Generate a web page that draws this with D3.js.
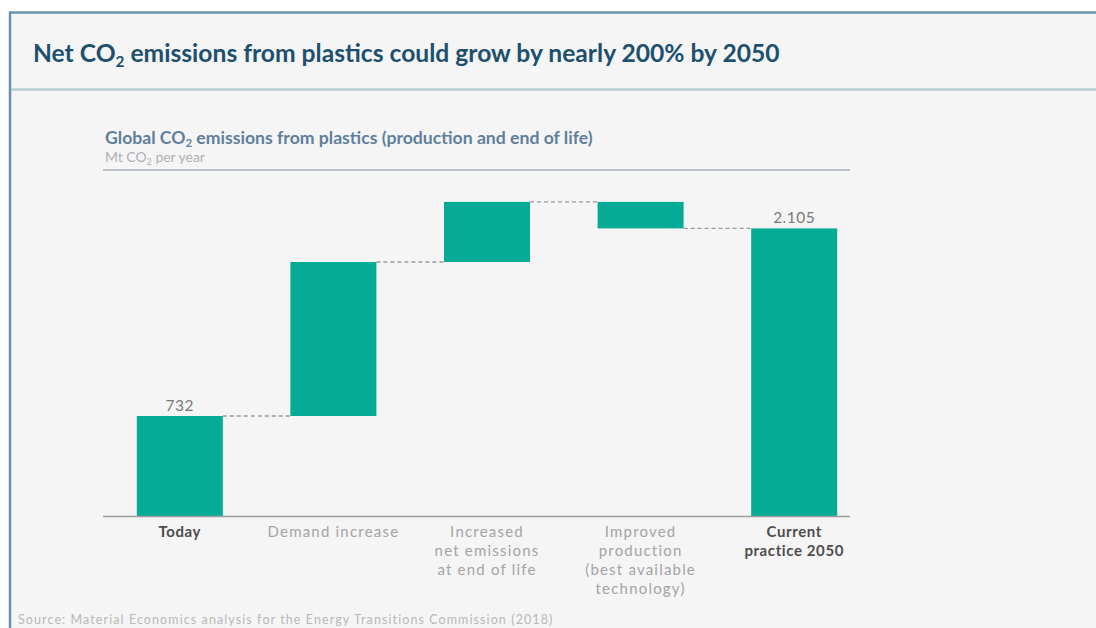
<!DOCTYPE html>
<html>
<head>
<meta charset="utf-8">
<script src="https://cdn.jsdelivr.net/npm/d3@7"></script>
<style>
  html, body { margin: 0; padding: 0; background: #ffffff; }
  svg { display: block; }
  text { font-family: "Lato", "Open Sans", sans-serif; }
</style>
</head>
<body>
<svg id="chart" width="1096" height="628"></svg>
<script>
// Waterfall steps (Mt CO2 per year)
const categories = ["Today", "Demand increase", "Increased net emissions at end of life", "Improved production (best available technology)", "Current practice 2050"];
const categoryLines = [
  ["Today"],
  ["Demand increase"],
  ["Increased", "net emissions", "at end of life"],
  ["Improved", "production", "(best available", "technology)"],
  ["Current", "practice 2050"]
];
const stepValues = [732, 1127, 440, -194, 2105];
const stepKinds = ["total", "delta", "delta", "delta", "total"];
const valueLabels = ["732", "", "", "", "2.105"];

const svg = d3.select("#chart");
const W = 1096, H = 628;

// Panel frame
svg.append("rect").attr("x", 10).attr("y", 12).attr("width", W - 10).attr("height", H - 12).attr("fill", "#f5f5f6");
svg.append("line").attr("x1", 9).attr("x2", W).attr("y1", 12.5).attr("y2", 12.5).attr("stroke", "#6a90aa").attr("stroke-width", 2.5);
svg.append("line").attr("x1", 10).attr("x2", 10).attr("y1", 12).attr("y2", H).attr("stroke", "#6a90aa").attr("stroke-width", 2.5);
svg.append("line").attr("x1", 11).attr("x2", W).attr("y1", 89.5).attr("y2", 89.5).attr("stroke", "#b9cdcf").attr("stroke-width", 2.5);

// Fit helper: scales font-size so the text spans a given width
function fitWidth(sel, target) {
  const w = sel.node().getComputedTextLength();
  const fs = parseFloat(sel.attr("font-size"));
  sel.attr("font-size", (fs * target / w).toFixed(2));
}
// Spacing helper: widens letter-spacing so the text spans a given width
function spreadTo(sel, target) {
  const w = sel.node().getComputedTextLength();
  const n = sel.text().length;
  sel.attr("letter-spacing", ((target - w) / n).toFixed(2));
}

// Title
const title = svg.append("text").attr("x", 33).attr("y", 62).attr("font-size", 20)
  .attr("font-weight", 700).attr("fill", "#1d4f6e");
title.append("tspan").text("Net CO");
title.append("tspan").text("2").attr("font-size", "0.62em").attr("dy", 5);
title.append("tspan").text(" emissions from plastics could grow by nearly 200% by 2050").attr("dy", -5);
fitWidth(title, 747);

// Chart heading
const sub = svg.append("text").attr("x", 105).attr("y", 144).attr("font-size", 13)
  .attr("font-weight", 700).attr("fill", "#5f7f9c");
sub.append("tspan").text("Global CO");
sub.append("tspan").text("2").attr("font-size", "0.65em").attr("dy", 3);
sub.append("tspan").text(" emissions from plastics (production and end of life)").attr("dy", -3);
fitWidth(sub, 488);

const unit = svg.append("text").attr("x", 105).attr("y", 162).attr("font-size", 13)
  .attr("fill", "#b0b0b4");
unit.append("tspan").text("Mt CO");
unit.append("tspan").text("2").attr("font-size", "0.65em").attr("dy", 3);
unit.append("tspan").text(" per year").attr("dy", -3);
fitWidth(unit, 100);

svg.append("line").attr("x1", 103).attr("x2", 850).attr("y1", 170).attr("y2", 170)
  .attr("stroke", "#a9b1bd").attr("stroke-width", 1.5);

// Scales
const x = d3.scaleBand().domain(categories).range([103, 871]).paddingInner(0.44).paddingOuter(0.22);
const y = d3.scaleLinear().domain([0, 2105]).range([516, 228.4]);

// Build waterfall segments
let running = 0;
const segs = categories.map((c, i) => {
  let lo, hi, end;
  if (stepKinds[i] === "total") {
    lo = 0; hi = stepValues[i]; end = stepValues[i];
  } else {
    const start = running;
    end = running + stepValues[i];
    lo = Math.min(start, end); hi = Math.max(start, end);
  }
  running = end;
  return { c, i, lo, hi, end };
});

// Connectors
const g = svg.append("g");
segs.slice(0, -1).forEach((s, i) => {
  const next = categories[i + 1];
  g.append("line")
    .attr("x1", x(s.c) + x.bandwidth()).attr("x2", x(next))
    .attr("y1", y(s.end)).attr("y2", y(s.end))
    .attr("stroke", "#9a9a9a").attr("stroke-width", 1.3).attr("stroke-dasharray", "4,3");
});

// Bars
g.selectAll("rect.bar").data(segs).join("rect").attr("class", "bar")
  .attr("x", d => x(d.c)).attr("width", x.bandwidth())
  .attr("y", d => y(d.hi)).attr("height", d => y(d.lo) - y(d.hi))
  .attr("fill", "#05ab95");

// Value labels
g.selectAll("text.val").data(segs.filter(d => valueLabels[d.i])).join("text").attr("class", "val")
  .attr("x", d => x(d.c) + x.bandwidth() / 2).attr("y", d => y(d.hi) - 5)
  .attr("text-anchor", "middle").attr("font-size", 15.5).attr("letter-spacing", 0.5).attr("fill", "#7a7a7a")
  .text(d => valueLabels[d.i]);

// Baseline
svg.append("line").attr("x1", 103).attr("x2", 850).attr("y1", y(0) + 0.5).attr("y2", y(0) + 0.5)
  .attr("stroke", "#9c9c9c").attr("stroke-width", 1.5);

// Category labels
categories.forEach((c, i) => {
  const bold = stepKinds[i] === "total";
  const t = svg.append("text").attr("x", x(c) + x.bandwidth() / 2).attr("y", 537)
    .attr("text-anchor", "middle").attr("font-size", 15)
    .attr("letter-spacing", bold ? 0.6 : 1.2)
    .attr("font-weight", bold ? 700 : 400).attr("fill", bold ? "#4d4d4d" : "#a4a4a4");
  categoryLines[i].forEach((ln, k) => {
    t.append("tspan").attr("x", x(c) + x.bandwidth() / 2).attr("dy", k === 0 ? 0 : 19).text(ln);
  });
});

// Source
const src = svg.append("text").attr("x", 18).attr("y", 624).attr("font-size", 12.5).attr("fill", "#b8b8b8")
  .text("Source: Material Economics analysis for the Energy Transitions Commission  (2018)");
spreadTo(src, 537);
</script>
</body>
</html>
